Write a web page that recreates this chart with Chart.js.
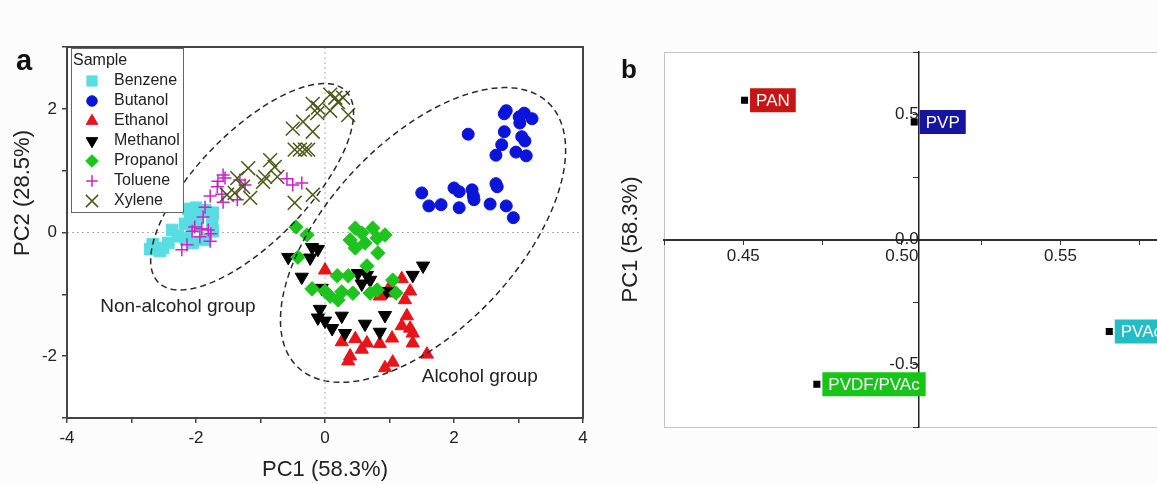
<!DOCTYPE html>
<html>
<head>
<meta charset="utf-8">
<script src="https://cdn.jsdelivr.net/npm/chart.js"></script>
<style>
    body { margin: 0; background: #fcfcfc; }
    #wrap { position: relative; width: 1157px; height: 484px; overflow: hidden; }
    canvas { position: absolute; top: 0; }
</style>
</head>
<body>
<div id="wrap">
    <canvas id="scoresChart" width="600" height="484" style="left:0;width:600px;height:484px"></canvas>
    <canvas id="loadingsChart" width="660" height="484" style="left:600px;width:660px;height:484px"></canvas>
</div>
<script>
// ---- panel a: PCA scores (PC1, PC2) per sample ----
const sampleNames = ['Benzene', 'Butanol', 'Ethanol', 'Methanol', 'Propanol', 'Toluene', 'Xylene'];

const benzene = [[-2.12,0.38],[-2.00,0.40],[-1.86,0.36],[-1.74,0.32],[-2.09,0.27],[-1.97,0.24],[-1.75,0.17],
    [-2.17,0.14],[-2.02,0.11],[-1.74,0.02],[-2.37,0.04],[-2.28,-0.06],[-2.16,-0.09],[-2.05,-0.17],[-1.86,-0.12],
    [-2.51,-0.25],[-2.67,-0.19],[-2.56,-0.30],[-2.71,-0.27],[-2.43,-0.17]];
const butanol = [[2.81,1.97],[2.78,1.92],[3.09,1.93],[3.01,1.87],[3.21,1.84],[3.02,1.77],[2.78,1.63],[2.22,1.59],
    [3.05,1.55],[3.10,1.48],[2.74,1.42],[2.65,1.25],[2.96,1.30],[3.12,1.24],[2.65,0.79],[2.67,0.74],[1.50,0.64],
    [2.00,0.72],[2.08,0.66],[2.28,0.69],[2.31,0.53],[2.30,0.59],[1.61,0.43],[1.80,0.45],[2.08,0.40],[2.56,0.46],
    [2.81,0.43],[2.92,0.24]];
const ethanol = [[0.00,-0.61],[1.01,-0.87],[1.19,-0.75],[1.32,-0.95],[0.85,-1.03],[0.98,-0.98],[1.24,-1.09],
    [1.27,-1.35],[1.19,-1.51],[1.32,-1.55],[1.36,-1.63],[0.26,-1.77],[0.47,-1.72],[0.65,-1.79],[0.85,-1.80],
    [1.04,-1.71],[1.36,-1.79],[0.39,-2.00],[0.57,-1.89],[0.36,-2.08],[1.05,-2.10],[0.93,-2.19],[1.58,-1.97]];
const methanol = [[-0.57,-0.40],[-0.36,-0.72],[-0.20,-0.24],[-0.11,-0.27],[-0.23,-0.41],[1.52,-0.54],[1.36,-0.69],
    [0.51,-0.66],[0.65,-0.69],[0.70,-0.77],[0.57,-0.83],[0.96,-0.95],[-0.05,-0.90],[-0.08,-1.24],[0.00,-1.43],
    [0.11,-1.55],[0.31,-1.63],[0.26,-1.35],[0.62,-1.48],[0.93,-1.34],[0.85,-1.61],[-0.11,-1.38]];
const propanol = [[-0.45,0.09],[-0.28,-0.04],[-0.42,-0.40],[0.47,0.07],[0.57,-0.01],[0.74,0.07],[0.93,-0.04],
    [0.39,-0.12],[0.62,-0.17],[0.81,-0.09],[0.47,-0.25],[0.82,-0.33],[0.65,-0.54],[0.19,-0.70],[0.36,-0.70],
    [-0.20,-0.91],[0.00,-0.95],[0.08,-1.03],[0.20,-1.09],[0.26,-0.96],[0.43,-0.98],[0.70,-0.98],[0.81,-0.93],
    [1.05,-0.77],[1.10,-0.98]];
const toluene = [[-1.58,0.93],[-1.55,0.88],[-1.66,0.83],[-1.32,0.85],[-1.24,0.77],[-1.67,0.74],[-1.78,0.59],
    [-1.60,0.62],[-1.58,0.49],[-1.36,0.53],[-0.59,0.87],[-0.50,0.77],[-0.36,0.80],[-1.86,0.41],[-1.89,0.25],
    [-2.02,0.09],[-1.91,0.06],[-1.81,0.04],[-1.77,-0.02],[-1.94,-0.07],[-1.78,-0.14],[-2.06,0.02],[-2.22,-0.28],
    [-2.14,-0.20]];
const xylene = [[0.08,2.23],[0.16,2.18],[0.28,2.18],[0.20,2.11],[-0.19,2.08],[-0.11,2.02],[0.08,1.97],[0.36,1.90],
    [-0.12,1.93],[-0.34,1.79],[-0.19,1.63],[-0.50,1.68],[-0.47,1.34],[-0.39,1.34],[-0.31,1.34],[-0.26,1.34],
    [-0.85,1.17],[-0.78,1.06],[-0.93,0.90],[-0.74,0.90],[-1.19,1.04],[-0.96,0.82],[-1.36,0.88],[-1.27,0.74],
    [-1.40,0.64],[-1.52,0.61],[-1.16,0.56],[-0.19,0.61],[-0.47,0.48]];

// group ellipses in data units: centre, half major axis vector, half minor axis vector
const nonAlcoholEllipse = { cx: -1.13, cy: 0.74, ax: 1.45, ay: 1.55, bx: 0.61, by: -0.62 };
const alcoholEllipse = { cx: 1.52, cy: -0.04, ax: 1.94, ay: 2.14, bx: 1.06, by: -1.05 };

// ---- panel b: loadings ----
const polymers = ['PAN', 'PVP', 'PVAc', 'PVDF/PVAc'];
const pc2Loadings = [0.4504, 0.5039, 0.5654, 0.4732];
const pc1Loadings = [0.557, 0.470, -0.368, -0.579];
const polymerColors = ['#c81414', '#1515a2', '#22bec6', '#17c417'];

const FONT = '"Liberation Sans", Arial, Helvetica, sans-serif';
const toPoints = arr => arr.map(p => ({ x: p[0], y: p[1] }));

const sampleSeries = [benzene, butanol, ethanol, methanol, propanol, toluene, xylene];
const sampleStyles = [
    { pointStyle: 'rect', radius: 8.2, color: '#58dde2', rotation: 0, borderWidth: 1 },
    { pointStyle: 'circle', radius: 6, color: '#0a14da', rotation: 0, borderWidth: 1 },
    { pointStyle: 'triangle', radius: 7.6, color: '#e8141a', rotation: 0, borderWidth: 1 },
    { pointStyle: 'triangle', radius: 7.6, color: '#000000', rotation: 180, borderWidth: 1 },
    { pointStyle: 'rectRot', radius: 7.2, color: '#1ec41e', rotation: 0, borderWidth: 1 },
    { pointStyle: 'cross', radius: 6.5, color: '#cc22cc', rotation: 0, borderWidth: 1.5 },
    { pointStyle: 'crossRot', radius: 9.8, color: '#4b5a1a', rotation: 0, borderWidth: 1.5 }
];

function drawEllipse(ctx, xs, ys, e) {
    ctx.beginPath();
    for (let i = 0; i <= 160; i++) {
        const t = i / 160 * Math.PI * 2;
        const dx = e.cx + Math.cos(t) * e.ax + Math.sin(t) * e.bx;
        const dy = e.cy + Math.cos(t) * e.ay + Math.sin(t) * e.by;
        const px = xs.getPixelForValue(dx), py = ys.getPixelForValue(dy);
        if (i === 0) ctx.moveTo(px, py); else ctx.lineTo(px, py);
    }
    ctx.closePath();
    ctx.stroke();
}

// extras for panel a: zero lines, ellipses, frame, legend, titles
const scoresDecor = {
    id: 'scoresDecor',
    beforeDatasetsDraw(chart) {
        const { ctx, chartArea: area, scales } = chart;
        const x0 = scales.x.getPixelForValue(0);
        const y0 = scales.y.getPixelForValue(0);
        ctx.save();
        ctx.fillStyle = '#ffffff';
        ctx.fillRect(area.left, area.top, area.right - area.left, area.bottom - area.top);
        ctx.strokeStyle = '#b0b0b0';
        ctx.lineWidth = 1;
        ctx.setLineDash([2, 3]);
        ctx.beginPath();
        ctx.moveTo(x0, area.top); ctx.lineTo(x0, area.bottom);
        ctx.moveTo(area.left, y0); ctx.lineTo(area.right, y0);
        ctx.stroke();
        ctx.restore();
    },
    afterDatasetsDraw(chart) {
        const { ctx, scales } = chart;
        ctx.save();
        ctx.strokeStyle = '#2a2a2a';
        ctx.lineWidth = 1.5;
        ctx.setLineDash([6, 4]);
        drawEllipse(ctx, scales.x, scales.y, nonAlcoholEllipse);
        drawEllipse(ctx, scales.x, scales.y, alcoholEllipse);
        ctx.setLineDash([]);
        ctx.fillStyle = '#222';
        ctx.font = '19px ' + FONT;
        ctx.textAlign = 'center';
        ctx.textBaseline = 'middle';
        ctx.fillText('Non-alcohol group', scales.x.getPixelForValue(-2.28), scales.y.getPixelForValue(-1.2));
        ctx.fillText('Alcohol group', scales.x.getPixelForValue(2.4), scales.y.getPixelForValue(-2.34));
        ctx.restore();
    },
    afterDraw(chart) {
        const { ctx, chartArea: area } = chart;
        ctx.save();
        // frame
        ctx.strokeStyle = '#444';
        ctx.lineWidth = 2;
        ctx.strokeRect(area.left, area.top, area.right - area.left, area.bottom - area.top);

        // legend box
        const lx = area.left + 4, ly = area.top + 1, lw = 112, lh = 164;
        ctx.fillStyle = '#ffffff';
        ctx.fillRect(lx, ly, lw, lh);
        ctx.strokeStyle = '#666';
        ctx.lineWidth = 1;
        ctx.strokeRect(lx + 0.5, ly + 0.5, lw, lh);
        ctx.font = '16px ' + FONT;
        ctx.textBaseline = 'middle';
        ctx.textAlign = 'left';
        ctx.fillStyle = '#222';
        ctx.fillText('Sample', lx + 2, ly + 13);
        sampleNames.forEach((name, i) => {
            const s = sampleStyles[i];
            const yy = ly + 33 + i * 20;
            ctx.fillStyle = s.color;
            ctx.strokeStyle = s.color;
            ctx.lineWidth = s.borderWidth;
            Chart.helpers.drawPoint(ctx, {
                pointStyle: s.pointStyle, rotation: s.rotation,
                radius: s.radius * 0.88, borderWidth: s.borderWidth
            }, lx + 21, yy);
            ctx.fillStyle = '#222';
            ctx.fillText(name, lx + 43, yy);
        });

        // panel letter and axis titles
        ctx.fillStyle = '#111';
        ctx.font = 'bold 29px ' + FONT;
        ctx.textAlign = 'center';
        ctx.textBaseline = 'alphabetic';
        ctx.fillText('a', 24, 70);
        ctx.font = '22px ' + FONT;
        ctx.fillStyle = '#222';
        ctx.textBaseline = 'middle';
        ctx.fillText('PC1 (58.3%)', (area.left + area.right) / 2, 470);
        ctx.translate(23, 193);
        ctx.rotate(-Math.PI / 2);
        ctx.fillText('PC2 (28.5%)', 0, 0);
        ctx.restore();
    }
};

new Chart(document.getElementById('scoresChart').getContext('2d'), {
    type: 'scatter',
    data: {
        datasets: sampleSeries.map((arr, i) => ({
            label: sampleNames[i],
            data: toPoints(arr),
            pointStyle: sampleStyles[i].pointStyle,
            pointRadius: sampleStyles[i].radius,
            pointRotation: sampleStyles[i].rotation,
            pointBackgroundColor: sampleStyles[i].color,
            pointBorderColor: sampleStyles[i].color,
            pointBorderWidth: sampleStyles[i].borderWidth,
            order: sampleSeries.length - i // later samples drawn on top
        }))
    },
    options: {
        responsive: false,
        animation: false,
        layout: { padding: { top: 47, right: 17, left: 0, bottom: 0 } },
        plugins: { legend: { display: false }, tooltip: { enabled: false } },
        scales: {
            x: {
                min: -4, max: 4,
                ticks: {
                    stepSize: 1,
                    padding: 5,
                    color: '#222',
                    font: { size: 17, family: FONT },
                    callback: v => (v % 2 === 0 ? v : '')
                },
                grid: { drawOnChartArea: false, color: '#444', tickLength: 5, lineWidth: 1.5 },
                border: { display: false },
                afterFit: scale => { scale.height = 66; }
            },
            y: {
                min: -3, max: 3,
                ticks: {
                    stepSize: 1,
                    padding: 5,
                    color: '#222',
                    font: { size: 17, family: FONT },
                    callback: v => (v % 2 === 0 ? v : '')
                },
                grid: { drawOnChartArea: false, color: '#444', tickLength: 5, lineWidth: 1.5 },
                border: { display: false },
                afterFit: scale => { scale.width = 67; }
            }
        }
    },
    plugins: [scoresDecor]
});

// extras for panel b: frame, coloured name boxes, titles
const loadingsDecor = {
    id: 'loadingsDecor',
    beforeDraw(chart) {
        const { ctx, chartArea: area } = chart;
        ctx.save();
        ctx.fillStyle = '#ffffff';
        ctx.fillRect(area.left, area.top, area.right - area.left, area.bottom - area.top);
        ctx.strokeStyle = '#c4c4c4';
        ctx.lineWidth = 1;
        ctx.strokeRect(area.left + 0.5, area.top + 0.5, area.right - area.left, area.bottom - area.top);
        ctx.restore();
    },
    afterDatasetsDraw(chart) {
        const { ctx } = chart;
        const meta = chart.getDatasetMeta(0);
        ctx.save();
        ctx.font = '17px ' + FONT;
        ctx.textBaseline = 'middle';
        ctx.textAlign = 'left';
        meta.data.forEach((pt, i) => {
            const w = ctx.measureText(polymers[i]).width + 12;
            const left = pt.x + 5.5;
            ctx.fillStyle = polymerColors[i];
            ctx.fillRect(left, pt.y - 12, w, 24);
            ctx.fillStyle = '#ffffff';
            ctx.fillText(polymers[i], left + 6, pt.y + 1);
        });
        ctx.restore();
    },
    afterDraw(chart) {
        const { ctx, chartArea: area, scales } = chart;
        ctx.save();
        ctx.fillStyle = '#222';
        ctx.font = '22px ' + FONT;
        ctx.textAlign = 'center';
        ctx.textBaseline = 'middle';
        ctx.fillText('PC2 (28.5%)', scales.y.left + scales.y.width, 31);
        ctx.fillStyle = '#111';
        ctx.font = 'bold 26px ' + FONT;
        ctx.textBaseline = 'alphabetic';
        ctx.fillText('b', 29, 78);
        ctx.fillStyle = '#222';
        ctx.font = '22px ' + FONT;
        ctx.textBaseline = 'middle';
        ctx.translate(31, (area.top + area.bottom) / 2);
        ctx.rotate(-Math.PI / 2);
        ctx.fillText('PC1 (58.3%)', 0, 0);
        ctx.restore();
    }
};

new Chart(document.getElementById('loadingsChart').getContext('2d'), {
    type: 'scatter',
    data: {
        datasets: [{
            label: 'Loadings',
            data: pc2Loadings.map((v, i) => ({ x: v, y: pc1Loadings[i] })),
            pointStyle: 'rect',
            pointRadius: 5,
            pointBackgroundColor: '#000',
            pointBorderColor: '#000',
            pointBorderWidth: 0
        }]
    },
    options: {
        responsive: false,
        animation: false,
        layout: { padding: { top: 52, right: 41, left: 64, bottom: 57 } },
        plugins: { legend: { display: false }, tooltip: { enabled: false } },
        scales: {
            x: {
                min: 0.425, max: 0.6,
                position: { y: 0 },
                ticks: {
                    stepSize: 0.025,
                    padding: 3,
                    color: '#222',
                    font: { size: 17, family: FONT },
                    callback: v => (Math.round(v * 1000) % 50 === 0 ? v.toFixed(2) : '')
                },
                grid: { drawOnChartArea: false, color: '#333', tickLength: 4 },
                border: { color: '#333', width: 2 }
            },
            y: {
                min: -0.75, max: 0.75,
                position: { x: 0.5053 },
                ticks: {
                    stepSize: 0.25,
                    padding: 5,
                    color: '#222',
                    font: { size: 17, family: FONT },
                    callback: v => (Math.round(v * 100) % 50 === 0 && Math.abs(v) < 0.7 ? v.toFixed(1) : '')
                },
                grid: { drawOnChartArea: false, color: '#333', tickLength: 5 },
                border: { color: '#222', width: 1.5 }
            }
        }
    },
    plugins: [loadingsDecor]
});
</script>
</body>
</html>
